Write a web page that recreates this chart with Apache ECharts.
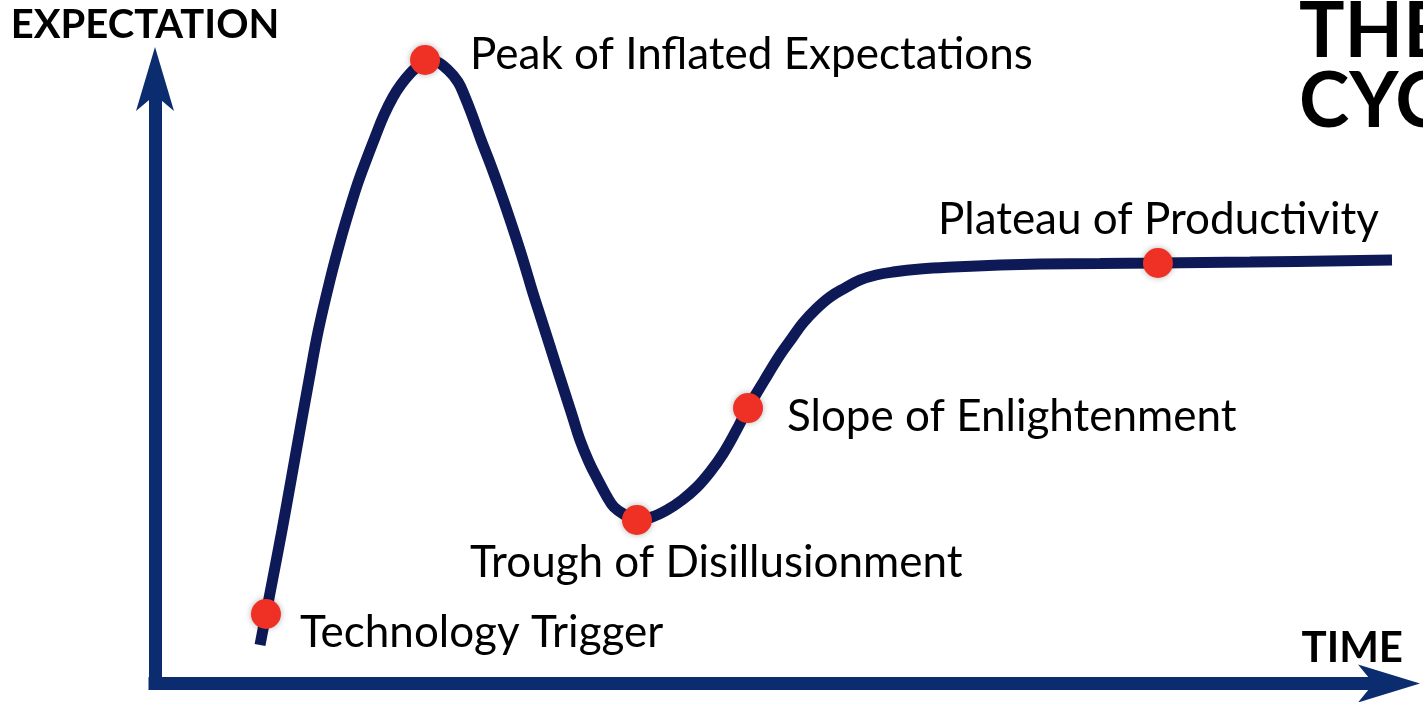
<!DOCTYPE html>
<html>
<head>
<meta charset="utf-8">
<script src="https://cdn.jsdelivr.net/npm/echarts@6/dist/echarts.min.js"></script>
<style>
  html, body { margin: 0; padding: 0; background: #fff; }
  #main { width: 1423px; height: 702px; }
</style>
</head>
<body>
<div id="main"></div>
<script>
// hype curve, time (0-100) vs expectation (0-100)
var curveTime = [8.49, 8.97, 9.50, 10.27, 11.00, 11.72, 12.45, 13.21, 14.15, 15.00,
    15.76, 16.41, 17.14, 17.78, 18.51, 19.24, 19.89, 20.62, 21.26, 21.83,
    22.64, 23.69, 24.50, 25.06, 25.63, 26.36, 27.08, 27.73, 28.38, 29.11,
    29.83, 30.55, 31.20, 31.77, 32.41, 33.06, 33.71, 34.35, 35.08, 35.81,
    36.46, 37.10, 38.00, 38.96, 40.18, 41.39, 42.61, 43.82, 44.87, 45.91,
    46.97, 47.94, 49.23, 50.52, 51.50, 52.38, 53.44, 54.57, 55.78, 56.99,
    58.29, 59.66, 61.85, 64.51, 68.31, 71.54, 76.40, 81.08, 88.52, 100.00];
var curveExpect = [6.54, 11.81, 17.59, 26.08, 34.58, 43.08, 51.57, 60.07, 68.56, 75.36,
    80.80, 85.13, 89.29, 92.78, 96.60, 99.66, 101.78, 103.65, 104.93, 105.95,
    105.78, 104.25, 102.21, 99.66, 96.60, 92.35, 88.45, 84.71, 80.80, 76.21,
    71.45, 66.36, 62.11, 58.37, 54.12, 49.87, 45.62, 41.38, 37.64, 34.58,
    32.03, 29.99, 28.63, 27.78, 28.29, 29.48, 31.18, 33.39, 35.94, 39.00,
    42.91, 46.81, 51.40, 55.82, 58.71, 61.26, 63.64, 65.68, 67.21, 68.56,
    69.41, 69.92, 70.43, 70.77, 71.11, 71.28, 71.37, 71.45, 71.62, 71.96];

// the five phases
var phaseNames = ['Technology Trigger', 'Peak of Inflated Expectations', 'Trough of Disillusionment',
    'Slope of Enlightenment', 'Plateau of Productivity'];
var phaseTime = [8.97, 21.83, 38.96, 47.94, 81.08];
var phaseExpect = [11.81, 105.95, 27.78, 46.81, 71.45];
var labelOffsets = [[19, 19], [30, -5], [-182, 43], [24, 9], [-235, -43]];

var chart = echarts.init(document.getElementById('main'));

var curveData = [];
for (var i = 0; i < curveTime.length; i++) {
    curveData.push([curveTime[i], curveExpect[i]]);
}
var phaseData = [];
for (var j = 0; j < phaseNames.length; j++) {
    phaseData.push({
        name: phaseNames[j],
        value: [phaseTime[j], phaseExpect[j]],
        label: { offset: labelOffsets[j] }
    });
}

var axisColor = '#0b2d6f';

var option = {
    animation: false,
    backgroundColor: '#ffffff',
    title: {
        text: 'THE\nCYCLE',
        left: 1294,
        top: -8,
        textStyle: {
            fontFamily: 'Lato',
            fontWeight: 'bold',
            fontSize: 76,
            lineHeight: 70,
            color: '#000'
        }
    },
    grid: {
        left: 155,
        right: 31,
        top: 95,
        bottom: 18.5
    },
    xAxis: {
        type: 'value',
        min: 0,
        max: 100,
        name: 'TIME',
        nameLocation: 'end',
        nameGap: 11,
        nameTextStyle: {
            fontFamily: 'Lato',
            fontWeight: 'bold',
            fontSize: 42,
            color: '#000',
            align: 'right',
            verticalAlign: 'bottom',
            padding: [0, 0, 14, 0]
        },
        axisLine: {
            show: true,
            symbol: ['none', 'arrow'],
            symbolSize: [28.5, 62],
            symbolOffset: [0, 28],
            lineStyle: { color: axisColor, width: 13, cap: 'square' }
        },
        axisTick: { show: false },
        axisLabel: { show: false },
        splitLine: { show: false }
    },
    yAxis: {
        type: 'value',
        min: 0,
        max: 100,
        name: 'EXPECTATION',
        nameLocation: 'end',
        nameGap: 50,
        nameTextStyle: {
            fontFamily: 'Lato',
            fontWeight: 'bold',
            fontSize: 40,
            color: '#000',
            padding: [0, 20, 0, 0]
        },
        axisLine: {
            show: true,
            symbol: ['none', 'arrow'],
            symbolSize: [28.5, 64],
            symbolOffset: [0, 48],
            lineStyle: { color: axisColor, width: 13, cap: 'square' }
        },
        axisTick: { show: false },
        axisLabel: { show: false },
        splitLine: { show: false }
    },
    series: [
        {
            name: 'Hype',
            type: 'line',
            data: curveData,
            smooth: 0.4,
            clip: false,
            showSymbol: false,
            lineStyle: { color: '#0d1a57', width: 11 },
            z: 2
        },
        {
            name: 'Phases',
            type: 'scatter',
            data: phaseData,
            symbolSize: 30,
            clip: false,
            itemStyle: {
                color: '#ee3124',
                opacity: 1,
                shadowBlur: 6,
                shadowColor: 'rgba(0,0,0,0.3)'
            },
            label: {
                show: true,
                position: 'right',
                distance: 0,
                formatter: '{b}',
                fontFamily: 'Lato',
                fontSize: 44,
                color: '#000'
            },
            z: 3
        }
    ]
};

chart.setOption(option);
</script>
</body>
</html>
